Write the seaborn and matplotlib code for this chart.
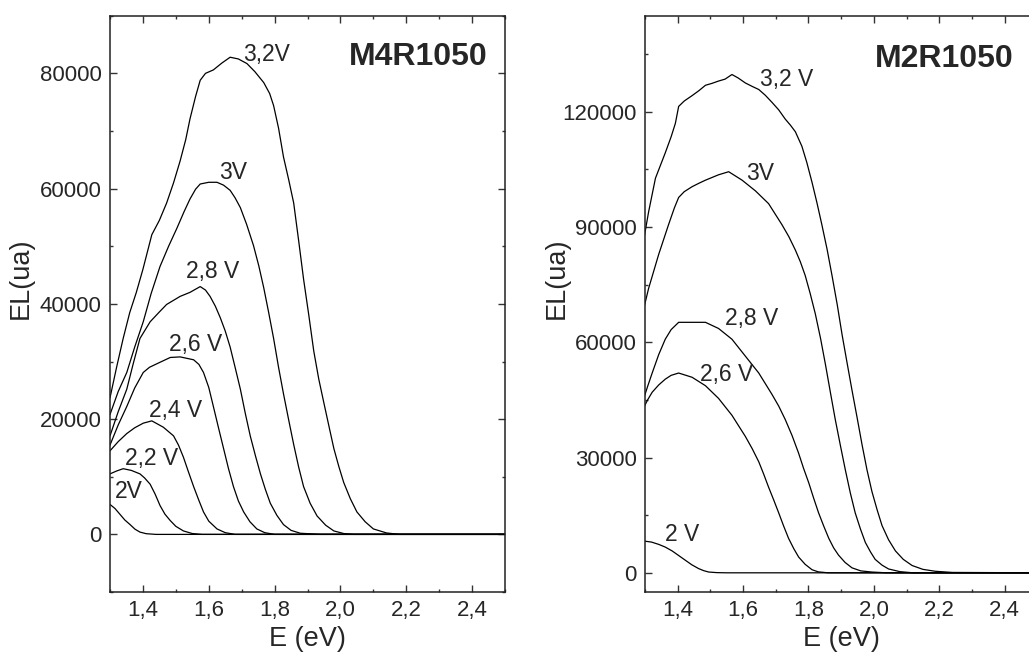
import matplotlib
matplotlib.use("Agg")
import matplotlib.pyplot as plt
import seaborn as sns
import pandas as pd
from matplotlib.ticker import MultipleLocator

# ---- M4R1050 (left panel) : E (eV) / EL (ua)
m4_32_E = [1.30, 1.32, 1.34, 1.36, 1.38, 1.40, 1.427, 1.45, 1.472, 1.493, 1.513, 1.53, 1.543, 1.56, 1.574, 1.59,
           1.614, 1.64, 1.665, 1.69, 1.716, 1.74, 1.767, 1.785, 1.797, 1.812, 1.827, 1.843, 1.858, 1.873, 1.888,
           1.904, 1.919, 1.934, 1.949, 1.965, 1.98, 1.995, 2.01, 2.03, 2.05, 2.075, 2.10, 2.14, 2.18, 2.50]
m4_32_EL = [23700, 29000, 34000, 38500, 42000, 46000, 52000, 54500, 57500, 61000, 64800, 68500, 72100, 76000,
            78800, 80000, 80600, 81800, 82800, 82500, 81700, 80300, 78400, 76500, 74400, 70500, 65500, 61500,
            57500, 51000, 44300, 38000, 31800, 27000, 23000, 18800, 14900, 11800, 9000, 6200, 3900, 2200, 950,
            250, 0, 0]
m4_30_E = [1.30, 1.325, 1.351, 1.375, 1.401, 1.425, 1.452, 1.478, 1.503, 1.525, 1.543, 1.56, 1.574, 1.60, 1.625,
           1.645, 1.665, 1.68, 1.696, 1.715, 1.736, 1.752, 1.767, 1.782, 1.797, 1.812, 1.827, 1.843, 1.858, 1.873,
           1.888, 1.908, 1.929, 1.955, 1.98, 2.01, 2.04, 2.50]
m4_30_EL = [20800, 24800, 28100, 32500, 36900, 41800, 46500, 50000, 53100, 56000, 58200, 59900, 60800, 61100,
            61100, 60600, 59700, 58400, 56700, 53800, 50100, 46600, 42800, 38500, 34000, 29000, 24400, 19800,
            15600, 11700, 8300, 5400, 3200, 1600, 600, 150, 0, 0]
m4_28_E = [1.30, 1.325, 1.351, 1.37, 1.391, 1.422, 1.45, 1.472, 1.513, 1.543, 1.574, 1.59, 1.604, 1.62, 1.635,
           1.65, 1.665, 1.68, 1.696, 1.711, 1.726, 1.742, 1.757, 1.772, 1.787, 1.807, 1.827, 1.85, 1.878, 1.94, 2.50]
m4_28_EL = [17100, 21300, 25200, 29500, 34000, 36900, 38600, 39900, 41300, 42000, 43000, 42400, 41300, 39600,
            37600, 35300, 32500, 29000, 25200, 21000, 17100, 13600, 10500, 7800, 5400, 3300, 1700, 700, 200, 0, 0]
m4_26_E = [1.30, 1.325, 1.351, 1.375, 1.401, 1.42, 1.442, 1.483, 1.513, 1.554, 1.57, 1.584, 1.60, 1.614, 1.63,
           1.645, 1.66, 1.675, 1.69, 1.706, 1.725, 1.746, 1.77, 1.80, 2.50]
m4_26_EL = [15500, 19000, 22200, 25400, 28100, 29000, 29600, 30700, 30800, 30300, 29500, 28100, 25500, 22200,
            18400, 14900, 11400, 8300, 5800, 3900, 2200, 950, 300, 0, 0]
m4_24_E = [1.30, 1.325, 1.351, 1.375, 1.401, 1.427, 1.462, 1.493, 1.508, 1.523, 1.538, 1.554, 1.57, 1.584,
           1.60, 1.625, 1.65, 1.68, 2.50]
m4_24_EL = [14500, 16100, 17500, 18500, 19300, 19700, 18600, 17100, 15500, 13400, 10900, 8300, 5900, 3900,
            2300, 950, 300, 0, 0]
m4_22_E = [1.30, 1.32, 1.34, 1.365, 1.391, 1.405, 1.422, 1.437, 1.452, 1.467, 1.483, 1.50, 1.523, 1.55, 1.58, 2.50]
m4_22_EL = [10500, 11000, 11400, 11100, 10500, 9800, 8700, 7000, 5000, 3500, 2400, 1400, 600, 150, 0, 0]
m4_20_E = [1.30, 1.315, 1.33, 1.345, 1.361, 1.376, 1.391, 1.41, 1.44, 2.50]
m4_20_EL = [5200, 4500, 3500, 2500, 1700, 900, 400, 120, 0, 0]

# ---- M2R1050 (right panel)
m2_32_E = [1.294, 1.311, 1.332, 1.362, 1.38, 1.393, 1.403, 1.42, 1.444, 1.465, 1.485, 1.505, 1.525, 1.545,
           1.566, 1.585, 1.607, 1.628, 1.648, 1.668, 1.688, 1.709, 1.729, 1.745, 1.760, 1.780, 1.795, 1.811,
           1.826, 1.841, 1.857, 1.872, 1.888, 1.903, 1.918, 1.933, 1.949, 1.964, 1.979, 1.994, 2.01, 2.025,
           2.045, 2.066, 2.09, 2.117, 2.15, 2.188, 2.24, 2.50]
m2_32_EL = [85600, 93900, 102700, 109300, 113500, 117000, 121400, 122800, 124200, 125500, 126900, 127400,
            128000, 128500, 129700, 128800, 127500, 126600, 125800, 124300, 122500, 120500, 118100, 116500,
            114800, 111000, 106800, 101600, 96300, 90600, 84200, 77400, 69800, 61900, 54700, 47600, 40300,
            33300, 26800, 21200, 16400, 12300, 8600, 5700, 3500, 1900, 900, 400, 100, 0]
m2_30_E = [1.294, 1.311, 1.342, 1.372, 1.39, 1.403, 1.42, 1.444, 1.465, 1.485, 1.525, 1.556, 1.597, 1.638,
           1.678, 1.719, 1.740, 1.760, 1.775, 1.790, 1.805, 1.821, 1.837, 1.852, 1.867, 1.882, 1.898, 1.913,
           1.928, 1.943, 1.959, 1.974, 1.99, 2.004, 2.025, 2.045, 2.08, 2.12, 2.50]
m2_30_EL = [68000, 74000, 82900, 90600, 95000, 97700, 99200, 100500, 101400, 102200, 103600, 104400, 102200,
            99400, 96100, 90600, 87500, 84000, 81000, 77400, 72800, 67400, 61000, 54200, 47000, 39900, 33000,
            26700, 20800, 15600, 11400, 7900, 5400, 3500, 2000, 1000, 300, 0, 0]
m2_28_E = [1.294, 1.308, 1.322, 1.342, 1.362, 1.38, 1.403, 1.444, 1.485, 1.525, 1.566, 1.607, 1.648, 1.688,
           1.709, 1.729, 1.750, 1.770, 1.785, 1.801, 1.816, 1.831, 1.847, 1.862, 1.877, 1.892, 1.912, 1.933,
           1.96, 1.994, 2.04, 2.50]
m2_28_EL = [44800, 48500, 52000, 56800, 60800, 63300, 65200, 65200, 65200, 63600, 60800, 56400, 52000, 46500,
            43400, 39900, 35700, 31100, 27200, 23400, 19400, 15600, 12100, 9000, 6500, 4600, 2700, 1300,
            500, 200, 0, 0]
m2_26_E = [1.294, 1.308, 1.322, 1.342, 1.362, 1.38, 1.403, 1.444, 1.485, 1.525, 1.566, 1.607, 1.628, 1.648,
           1.663, 1.678, 1.694, 1.709, 1.724, 1.739, 1.755, 1.770, 1.79, 1.811, 1.83, 1.86, 2.50]
m2_26_EL = [42600, 45000, 47000, 48900, 50400, 51400, 52000, 50900, 48700, 45400, 41000, 35500, 32300, 28900,
            25700, 22300, 18900, 15600, 12200, 9000, 6300, 4100, 2200, 800, 250, 0, 0]
m2_20_E = [1.294, 1.32, 1.342, 1.362, 1.383, 1.403, 1.423, 1.443, 1.464, 1.48, 1.495, 1.52, 1.55, 2.50]
m2_20_EL = [8300, 8000, 7400, 6700, 5700, 4500, 3300, 2100, 1100, 550, 200, 50, 0, 0]

# curve labels: text, E, EL
m4_labels = [("3,2V", 1.777, 83300), ("3V", 1.675, 62750), ("2,8 V", 1.611, 45700), ("2,6 V", 1.559, 32900),
             ("2,4 V", 1.50, 21500), ("2,2 V", 1.427, 13200), ("2V", 1.356, 7400)]
m2_labels = [("3,2 V", 1.734, 128300), ("3V", 1.653, 104000), ("2,8 V", 1.627, 66300),
             ("2,6 V", 1.551, 51500), ("2 V", 1.413, 9900)]

x_ticks = [1.4, 1.6, 1.8, 2.0, 2.2, 2.4]
x_ticklabels = ["1,4", "1,6", "1,8", "2,0", "2,2", "2,4"]
m4_yticks = [0, 20000, 40000, 60000, 80000]
m2_yticks = [0, 30000, 60000, 90000, 120000]

m4_curves = [(m4_32_E, m4_32_EL), (m4_30_E, m4_30_EL), (m4_28_E, m4_28_EL), (m4_26_E, m4_26_EL),
             (m4_24_E, m4_24_EL), (m4_22_E, m4_22_EL), (m4_20_E, m4_20_EL)]
m2_curves = [(m2_32_E, m2_32_EL), (m2_30_E, m2_30_EL), (m2_28_E, m2_28_EL), (m2_26_E, m2_26_EL),
             (m2_20_E, m2_20_EL)]

sns.set_theme(style="ticks")
plt.rcParams["font.family"] = ["Liberation Sans", "DejaVu Sans"]

fig = plt.figure(figsize=(10.29, 6.64), dpi=100)
ax1 = fig.add_axes([0.1069, 0.1084, 0.3839, 0.8679])
ax2 = fig.add_axes([0.6268, 0.1084, 0.3813, 0.8679])


def draw_panel(ax, curves, labels, yticks, ylim, yminor, name):
    for E, EL in curves:
        df = pd.DataFrame({"E": E, "EL": EL})
        sns.lineplot(data=df, x="E", y="EL", ax=ax, color="black", linewidth=0.9, sort=False)
    for txt, x, y in labels:
        ax.text(x, y, txt, fontsize=16.5, ha="center", va="center")
    ax.set_xlim(1.3, 2.5)
    ax.set_ylim(*ylim)
    ax.set_xticks(x_ticks)
    ax.set_xticklabels(x_ticklabels)
    ax.xaxis.set_minor_locator(MultipleLocator(0.1))
    ax.set_yticks(yticks)
    ax.set_yticklabels([str(v) for v in yticks])
    ax.yaxis.set_minor_locator(MultipleLocator(yminor))
    ax.tick_params(which="both", direction="in", top=True, right=True, labelsize=16, width=1, color="#333333")
    ax.tick_params(which="major", length=5, pad=6)
    ax.tick_params(which="minor", length=2.5)
    for s in ax.spines.values():
        s.set_linewidth(1.1)
        s.set_color("#222222")
    ax.set_xlabel("E (eV)", fontsize=19.5, labelpad=3)
    ax.set_ylabel("EL(ua)", fontsize=19.5)
    ax.text(0, 0, name, fontsize=23, fontweight="bold", transform=ax.transAxes)
    return ax


draw_panel(ax1, m4_curves, m4_labels, m4_yticks, (-10000, 90000), 10000, "M4R1050")
draw_panel(ax2, m2_curves, m2_labels, m2_yticks, (-5000, 145000), 15000, "M2R1050")
ax1.texts[-1].set_position((0.957, 0.914))
ax1.texts[-1].set_ha("right")
ax2.texts[-1].set_position((0.939, 0.911))
ax2.texts[-1].set_ha("right")
ax1.yaxis.set_label_coords(-0.194, 0.545)
ax2.yaxis.set_label_coords(-0.191, 0.545)

fig.savefig("out.png", dpi=100)
